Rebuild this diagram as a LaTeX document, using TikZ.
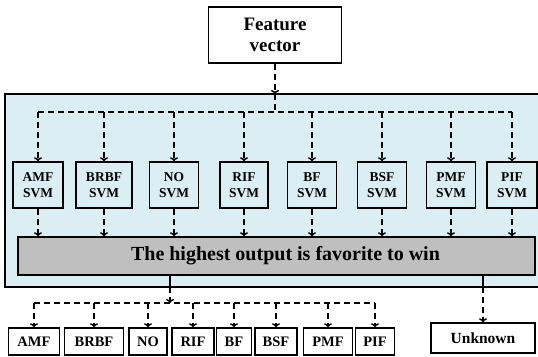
\documentclass[tikz,border=0pt]{standalone}
\usepackage{fontspec}
\setmainfont{Liberation Serif}
\usetikzlibrary{arrows,arrows.meta}
\definecolor{panelblue}{RGB}{218,238,243}
\definecolor{boxgray}{RGB}{191,191,191}
\tikzstyle{featbox}=[rectangle,draw,line width=1.5pt,fill=white,minimum width=133pt,minimum height=56pt,align=center,font=\bfseries\fontsize{19}{21}\selectfont]
\tikzstyle{svmbox}=[rectangle,draw,line width=1.5pt,fill=panelblue,minimum height=46pt,inner sep=1pt,align=center,font=\bfseries\fontsize{13.5}{16}\selectfont]
\tikzstyle{classbox}=[rectangle,draw,line width=1.5pt,fill=white,minimum height=27pt,inner sep=0pt,font=\bfseries\fontsize{14.5}{16}\selectfont]
\tikzstyle{edge}=[draw,line width=1.5pt,dash pattern=on 6pt off 4pt,->]
\tikzstyle{bus}=[draw,line width=1.5pt,dash pattern=on 6pt off 4pt]

\begin{document}
\begin{tikzpicture}[x=1pt,y=-1pt,>={To[length=4pt,width=8pt]}]
    \useasboundingbox (0,0) rectangle (538,356);

    % blue panel, open on the right
    \fill[panelblue] (5,94) rectangle (538,287);
    \draw[line width=1.7pt] (538,94) -- (5,94) -- (5,287) -- (538,287);
    \coordinate (ptop) at (0,94);
    \coordinate (pbot) at (0,287);

    \node[featbox] (feat) at (275,35) {Feature\\vector};
    \coordinate (hub) at (275,112);
    \draw[edge] (feat) -- (feat |- ptop);
    \draw[bus] (feat |- ptop) -- (hub);

    \foreach \x/\w/\name in {38/50/AMF, 104/56/BRBF, 174/49/NO, 244/48/RIF, 312/49/BF, 382/49/BSF, 451/49/PMF, 512/50/PIF}
        \node[svmbox, minimum width=\w pt] (s\name) at (\x,185) {\name\\SVM};

    \draw[bus] (sAMF |- hub) -- (sPIF |- hub);

    \node[rectangle, draw, line width=1.5pt, fill=boxgray, minimum width=517pt, minimum height=38pt,
          font=\bfseries\fontsize{20}{22}\selectfont] (win) at (276.5,256) {\hspace*{18pt}The highest output is favorite to win};

    \foreach \name in {AMF, BRBF, NO, RIF, BF, BSF, PMF, PIF}
    {
        \draw[edge] (s\name |- hub) -- (s\name);
        \draw[edge] (s\name) -- (s\name |- win.north);
    }

    % outputs
    \foreach \x/\w/\name in {34/51/AMF, 94/59/BRBF, 148/38/NO, 193/42/RIF, 234/35/BF, 276/42/BSF, 328/49/PMF, 375/39/PIF}
        \node[classbox, minimum width=\w pt] (o\name) at (\x,341.5) {\name};
    \node[classbox, minimum width=104pt, minimum height=30pt, font=\bfseries\fontsize{15.5}{17}\selectfont] (unk) at (483,338) {Unknown};

    \coordinate (split) at (170,303);
    \draw[line width=1.5pt] (win.south -| split) -- (split |- pbot);
    \draw[edge] (split |- pbot) -- (split);
    \draw[bus] (oAMF |- split) -- (oPIF |- split);
    \foreach \name in {AMF, BRBF, NO, RIF, BF, BSF, PMF, PIF}
        \draw[edge] (o\name |- split) -- (o\name);

    \draw[line width=1.5pt] (win.south -| unk) -- (unk |- pbot);
    \draw[edge] (unk |- pbot) -- (unk);

\end{tikzpicture}
\end{document}
